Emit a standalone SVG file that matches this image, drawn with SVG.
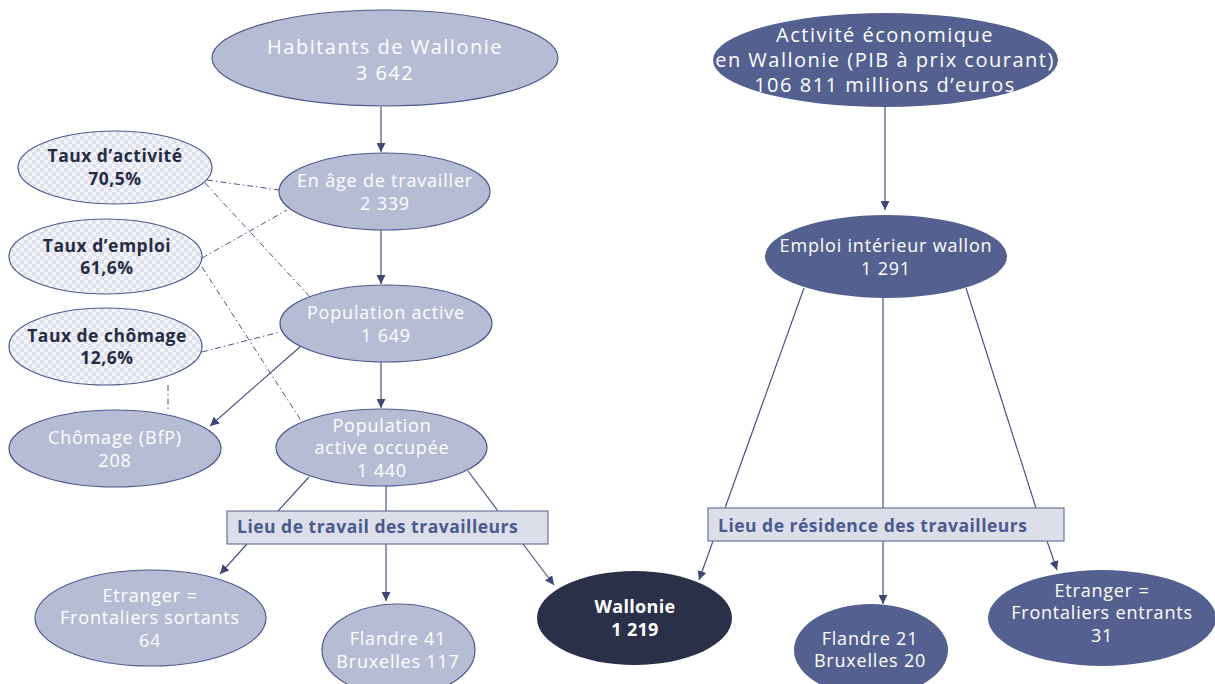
<svg xmlns="http://www.w3.org/2000/svg" width="1215" height="684" viewBox="0 0 1215 684">
<style>
.lt{fill:#b7bcd5;stroke:#4d5a8e;stroke-width:1.2}
.dk{fill:#546090;stroke:none}
.dd{fill:#2b3049;stroke:none}
.tx{fill:url(#chk);stroke:#4d5a8e;stroke-width:1.2}
.wt{font-family:"Open Sans","Liberation Sans",sans-serif;fill:#ffffff;text-anchor:middle;font-size:18px;letter-spacing:0.8px}
.big{font-size:20px;letter-spacing:1.5px}
.bt{font-family:"Open Sans","Liberation Sans",sans-serif;fill:#272c45;text-anchor:middle;font-size:17.5px;font-weight:bold;letter-spacing:0.5px}
.bx{fill:#dcdfea;stroke:#6b7399;stroke-width:1.2}
.bxt{font-family:"Open Sans","Liberation Sans",sans-serif;fill:#4b5a8e;font-size:17.5px;font-weight:bold;letter-spacing:0.5px}
.c{stroke:#4a5580;stroke-width:1.2;fill:none}
.a{marker-end:url(#ah)}
.d{stroke:#4a5580;stroke-width:1;fill:none;stroke-dasharray:6 3 1.5 3}
</style>
<defs>
<pattern id="chk" width="8" height="8" patternUnits="userSpaceOnUse">
<rect width="8" height="8" fill="#f4f5f9"/>
<rect width="4" height="4" fill="#dfe2ec"/>
<rect x="4" y="4" width="4" height="4" fill="#dfe2ec"/>
</pattern>
<marker id="ah" viewBox="0 0 10 10" refX="10" refY="5" markerWidth="9" markerHeight="9" markerUnits="userSpaceOnUse" orient="auto">
<path d="M0,0 L10,5 L0,10 z" fill="#3d4870"/>
</marker>
</defs>
<rect width="1215" height="684" fill="#ffffff"/>
<g id="connectors">
<line class="c a" x1="381" y1="107" x2="381" y2="152"/>
<line class="c a" x1="381" y1="230" x2="381" y2="284"/>
<line class="c a" x1="381" y1="362" x2="381" y2="408"/>
<line class="c a" x1="301" y1="346" x2="210" y2="426"/>
<line class="d" x1="207" y1="180" x2="279" y2="190"/>
<line class="d" x1="205" y1="183" x2="310" y2="297"/>
<line class="d" x1="202" y1="258" x2="287" y2="210"/>
<line class="d" x1="202" y1="267" x2="302" y2="422"/>
<line class="d" x1="202" y1="352" x2="280" y2="332"/>
<line class="d" x1="168" y1="385" x2="168" y2="411"/>
<line class="c" x1="309" y1="477" x2="278" y2="511"/>
<line class="c" x1="386" y1="486" x2="386" y2="511"/>
<line class="c" x1="468" y1="471" x2="498" y2="511"/>
<line class="c a" x1="247" y1="544" x2="220" y2="574"/>
<line class="c a" x1="386" y1="544" x2="386" y2="601"/>
<line class="c a" x1="523" y1="544" x2="554" y2="585"/>
<line class="c a" x1="885" y1="107" x2="885" y2="210"/>
<line class="c" x1="804" y1="288" x2="725" y2="508"/>
<line class="c" x1="883" y1="298" x2="883" y2="508"/>
<line class="c" x1="966" y1="288" x2="1036" y2="508"/>
<line class="c a" x1="713" y1="541" x2="699" y2="580"/>
<line class="c a" x1="883" y1="541" x2="883" y2="604"/>
<line class="c a" x1="1047" y1="541" x2="1057" y2="570"/>
</g>
<g id="habitants">
<ellipse class="lt" cx="385" cy="58" rx="173" ry="48"/>
<text class="wt big" x="385" y="54">Habitants de Wallonie</text>
<text class="wt big" x="385" y="80">3 642</text>
</g>
<g id="age-travailler">
<ellipse class="lt" cx="384.5" cy="191.5" rx="105.5" ry="38.5"/>
<text class="wt" x="385" y="187">En âge de travailler</text>
<text class="wt" x="385" y="210">2 339</text>
</g>
<g id="pop-active">
<ellipse class="lt" cx="386" cy="323.5" rx="106" ry="38.5"/>
<text class="wt" x="386" y="319">Population active</text>
<text class="wt" x="386" y="342">1 649</text>
</g>
<g id="pop-occupee">
<ellipse class="lt" cx="381.5" cy="447.5" rx="105.5" ry="38.5"/>
<text class="wt" x="382" y="432">Population</text>
<text class="wt" x="382" y="454">active occupée</text>
<text class="wt" x="382" y="477">1 440</text>
</g>
<g id="chomage">
<ellipse class="lt" cx="115" cy="448.5" rx="106" ry="38.5"/>
<text class="wt" x="115" y="444">Chômage (BfP)</text>
<text class="wt" x="115" y="467">208</text>
</g>
<g id="taux-activite">
<ellipse class="tx" cx="115" cy="167.5" rx="97" ry="36.5"/>
<text class="bt" x="115" y="162">Taux d’activité</text>
<text class="bt" x="115" y="185">70,5%</text>
</g>
<g id="taux-emploi">
<ellipse class="tx" cx="105.5" cy="256.5" rx="96.5" ry="37.5"/>
<text class="bt" x="107" y="252">Taux d’emploi</text>
<text class="bt" x="107" y="274">61,6%</text>
</g>
<g id="taux-chomage">
<ellipse class="tx" cx="105.5" cy="346.5" rx="96.5" ry="38.5"/>
<text class="bt" x="107" y="342">Taux de chômage</text>
<text class="bt" x="107" y="364">12,6%</text>
</g>
<g id="lieu-travail">
<rect class="bx" x="227" y="511" width="321" height="33"/>
<text class="bxt" x="237" y="533">Lieu de travail des travailleurs</text>
</g>
<g id="etranger-sortants">
<ellipse class="lt" cx="150.5" cy="618" rx="115.5" ry="48"/>
<text class="wt" x="150" y="602">Etranger =</text>
<text class="wt" x="150" y="624">Frontaliers sortants</text>
<text class="wt" x="150" y="647">64</text>
</g>
<g id="flandre-bxl-sortants">
<ellipse class="lt" cx="398.5" cy="650" rx="76.5" ry="46"/>
<text class="wt" x="398" y="645">Flandre 41</text>
<text class="wt" x="398" y="668">Bruxelles 117</text>
</g>
<g id="wallonie">
<ellipse class="dd" cx="634.5" cy="618" rx="97.5" ry="47"/>
<text class="wt" x="635" y="613" style="font-weight:bold;letter-spacing:0.3px">Wallonie</text>
<text class="wt" x="635" y="636" style="font-weight:bold;letter-spacing:0.3px">1 219</text>
</g>
<g id="activite-economique">
<ellipse class="dk" cx="885.5" cy="60" rx="172.5" ry="47"/>
<text class="wt big" x="885" y="42">Activité économique</text>
<text class="wt big" x="885" y="67">en Wallonie (PIB à prix courant)</text>
<text class="wt big" x="885" y="92">106 811 millions d’euros</text>
</g>
<g id="emploi-interieur">
<ellipse class="dk" cx="886" cy="256.5" rx="121" ry="41.5"/>
<text class="wt" x="886" y="252">Emploi intérieur wallon</text>
<text class="wt" x="886" y="275">1 291</text>
</g>
<g id="lieu-residence">
<rect class="bx" x="708" y="508" width="356" height="33"/>
<text class="bxt" x="718" y="532">Lieu de résidence des travailleurs</text>
</g>
<g id="flandre-bxl-entrants">
<ellipse class="dk" cx="871" cy="650" rx="77" ry="46"/>
<text class="wt" x="870" y="645">Flandre 21</text>
<text class="wt" x="870" y="667">Bruxelles 20</text>
</g>
<g id="etranger-entrants">
<ellipse class="dk" cx="1102" cy="618" rx="114" ry="48"/>
<text class="wt" x="1102" y="597">Etranger =</text>
<text class="wt" x="1102" y="619">Frontaliers entrants</text>
<text class="wt" x="1102" y="642">31</text>
</g>
</svg>
